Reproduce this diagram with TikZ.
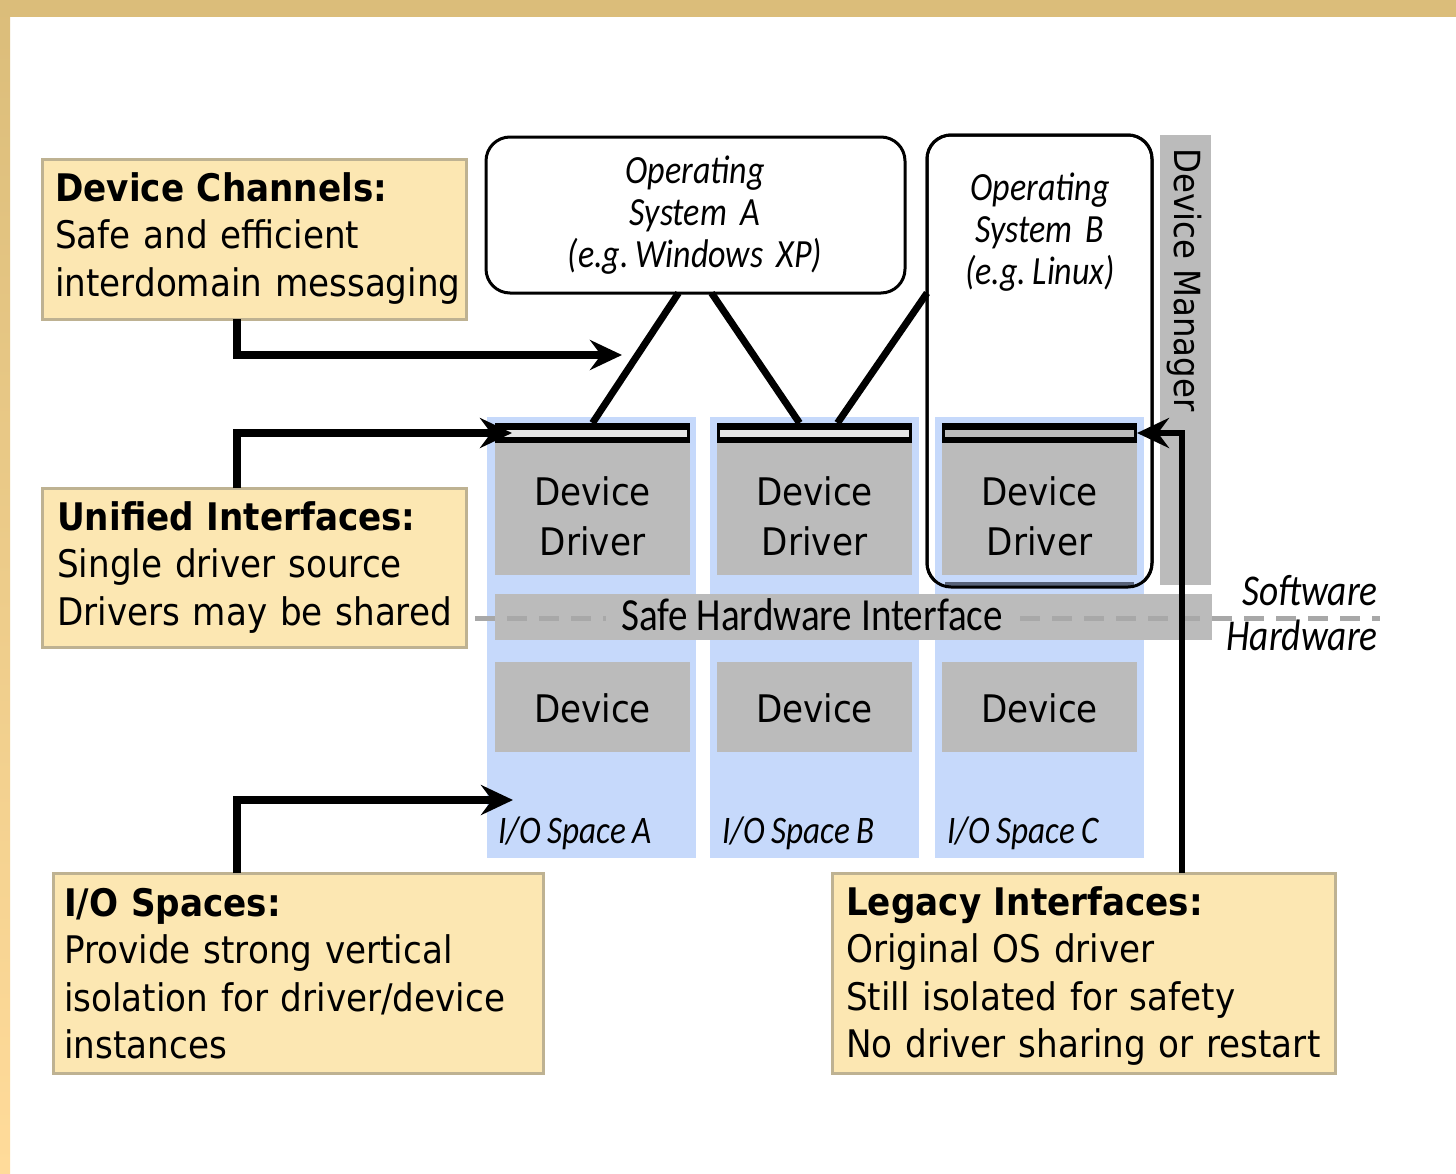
\documentclass[tikz,border=0pt]{standalone}
\usepackage{fontspec}
\setmainfont{DejaVu Sans}[FakeStretch=0.9]
\newfontfamily\condfont{Carlito}[FakeStretch=0.85]
\usetikzlibrary{arrows.meta,calc}

\definecolor{framegold}{RGB}{219,189,122}
\definecolor{framelight}{RGB}{255,219,154}
\definecolor{notefill}{RGB}{252,231,178}
\definecolor{noteline}{RGB}{190,178,146}
\definecolor{iospace}{RGB}{198,217,251}
\definecolor{panel}{RGB}{187,187,187}
\definecolor{barlight}{RGB}{230,230,230}
\definecolor{dashgray}{RGB}{168,168,168}
\definecolor{slate}{RGB}{88,98,120}

\newcommand{\tightspace}{\spaceskip=0.17em plus 0.05em minus 0.02em\relax}

\begin{document}
\begin{tikzpicture}[x=1pt,y=-1pt,
  box/.style={anchor=north west, inner sep=0pt, outer sep=0pt},
  note/.style={box, draw=noteline, fill=notefill, line width=3pt},
  notetext/.style={anchor=base west, inner sep=0pt, text width=520pt, align=left,
    font=\fontsize{38}{47.5}\selectfont},
  osbox/.style={box, draw=black, fill=white, line width=3pt, rounded corners=24pt},
  ostext/.style={anchor=base, inner sep=0pt, text width=380pt, align=center,
    font=\condfont\itshape\fontsize{40}{42}\selectfont\tightspace},
  paneltext/.style={anchor=base, inner sep=0pt, text width=190pt, align=center,
    font=\fontsize{38}{50}\selectfont},
  iolabel/.style={anchor=base west, inner sep=0pt,
    font=\condfont\itshape\fontsize{39}{40}\selectfont\tightspace},
  layerlabel/.style={anchor=base east, inner sep=0pt, font=\condfont\itshape\fontsize{44}{44}\selectfont},
  link/.style={line width=7pt},
  pointer/.style={line width=8pt, -{Stealth[length=32pt,width=30pt,inset=11pt]}},
]
\useasboundingbox (0,0) rectangle (1456,1173);
\fill[white] (0,0) rectangle (1456,1173);

% golden frame along the top and left edges
\fill[framegold] (0,0) rectangle (1456,17);
\shade[top color=framegold, bottom color=framelight] (0,0) rectangle (10,1173);

% annotation boxes
\node[note, minimum width=424pt, minimum height=160pt] (dc) at (42,159) {};
\node[note, minimum width=424pt, minimum height=159pt] (ui) at (42,488) {};
\node[note, minimum width=490pt, minimum height=200pt] (io) at (53,873) {};
\node[note, minimum width=503pt, minimum height=200pt] (li) at (832,873) {};

% operating system B (background fill, border redrawn later)
\node[osbox, minimum width=225pt, minimum height=452pt] (osB) at (927,135) {};

% I/O spaces with their drivers and devices
\foreach \c/\x/\d in {A/487/495, B/710/717, C/935/942} {
  \node[box, fill=iospace, minimum width=209pt, minimum height=441pt] (col\c) at (\x,417) {};
  \node[box, fill=panel, minimum width=195pt, minimum height=132pt] (drv\c) at (\d,443) {};
  \node[box, fill=black, minimum width=195pt, minimum height=20pt] (bar\c) at (\d,423) {};
  \node[box, fill=panel, minimum width=195pt, minimum height=90pt] (dev\c) at (\d,662) {};
}
\fill[barlight] ([xshift=3pt,yshift=-7pt]barA.north west) rectangle ([xshift=-3pt,yshift=6pt]barA.south east);
\fill[barlight] ([xshift=3pt,yshift=-7pt]barB.north west) rectangle ([xshift=-3pt,yshift=6pt]barB.south east);
\fill[panel] ([xshift=3pt,yshift=-7pt]barC.north west) rectangle ([xshift=-3pt,yshift=6pt]barC.south east);

% device manager strip and safe hardware interface band
\node[box, fill=panel, minimum width=51pt, minimum height=450pt] (dm) at (1160,135) {};
\node[box, fill=panel, minimum width=717pt, minimum height=46pt] (shi) at (495,594) {};

% software / hardware divider
\draw[dashgray, line width=5pt, dash pattern=on 20pt off 12pt] (475,618) -- (606,618);
\draw[dashgray, line width=5pt, dash pattern=on 20pt off 12pt] (1020,618) -- (1380,618);

% operating systems
\node[osbox, minimum width=419pt, minimum height=156pt] (osA) at (486,137) {};
\draw[slate, line width=4pt] ([xshift=18pt,yshift=3.5pt]osB.south west) -- ([xshift=-18pt,yshift=3.5pt]osB.south east);
\draw[line width=3pt, rounded corners=24pt] (osB.north west) rectangle (osB.south east);

% device channels between operating systems and drivers
\draw[link] ([xshift=-17pt]osA.south) -- (barA.north);
\draw[link] ([xshift=16pt]osA.south) -- ([xshift=-15pt]barB.north);
\draw[link] ([yshift=68pt]osB.west) -- ([xshift=23pt]barB.north);

% pointers from the annotation boxes
\coordinate (dctip) at (622,355);
\coordinate (iotip) at (513,800);
\draw[pointer] ([xshift=-17pt]dc.south) |- (dctip);
\draw[pointer] ([xshift=-17pt]ui.north) |- ([xshift=17pt]barA.west);
\draw[pointer] ([xshift=-61pt]io.north) |- (iotip);
\draw[pointer, line width=6pt] ([xshift=98pt]li.north) |- (barC.east);

% annotation texts
\node[notetext] (dct) at (55,201) {\textbf{Device Channels:}\\Safe and efficient\\interdomain messaging};
\node[notetext] (uit) at (57,530) {\textbf{Unified Interfaces:}\\Single driver source\\Drivers may be shared};
\node[notetext] (iot) at (64,916) {\textbf{I/O Spaces:}\\Provide strong vertical\\isolation for driver/device\\instances};
\node[notetext] (lit) at (846,915) {\textbf{Legacy Interfaces:}\\Original OS driver\\Still isolated for safety\\No driver sharing or restart};

% operating system texts
\node[ostext] (osAt) at (695,183) {Operating\\System A\\(e.g.\,Windows XP)};
\node[ostext] (osBt) at (1040,200) {Operating\\System B\\(e.g.\,Linux)};

% driver and device texts
\foreach \c in {A,B,C} {
  \node[paneltext] (drv\c t) at ($(drv\c.north)+(0,62)$) {Device\\Driver};
  \node[paneltext] (dev\c t) at ($(dev\c.north)+(0,60)$) {Device};
}
\node[iolabel] (ioAt) at (498,843) {I/O Space A};
\node[iolabel] (ioBt) at (722,843) {I/O Space B};
\node[iolabel] (ioCt) at (947,843) {I/O Space C};

\node[anchor=base, inner sep=0pt, font=\condfont\fontsize{46}{46}\selectfont] (shit) at (812,630) {Safe Hardware Interface};
\node[layerlabel] (swt) at (1378,605) {Software};
\node[layerlabel] (hwt) at (1378,650) {Hardware};
\node[anchor=base west, rotate=-90, inner sep=0pt, font=\fontsize{36}{36}\selectfont] (dmt) at (1174,148) {Device Manager};
\end{tikzpicture}
\end{document}
